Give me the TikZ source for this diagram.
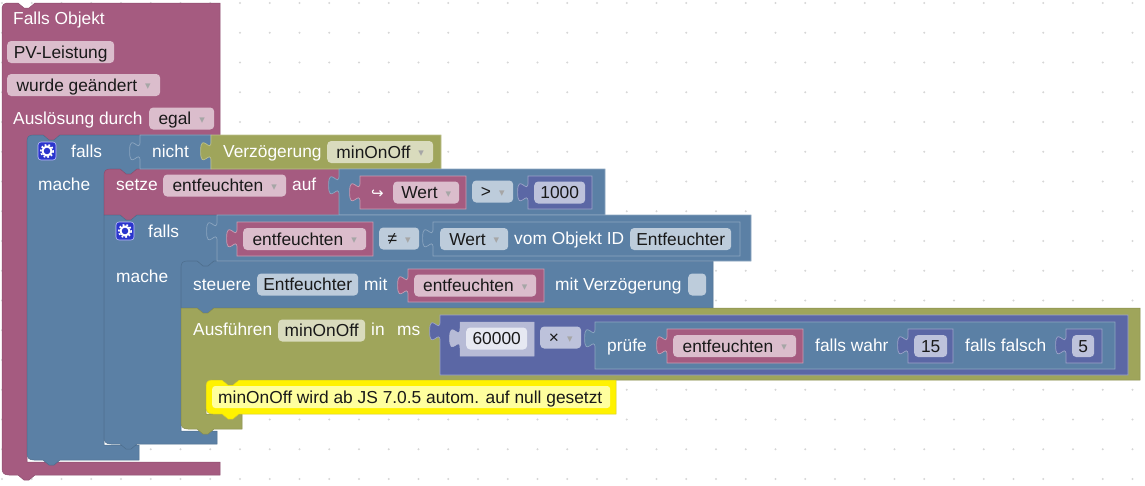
\documentclass[tikz,border=0pt]{standalone}
\usepackage{fontspec}
\setmainfont{Liberation Sans}
\newfontfamily\symfont{DejaVu Sans}
\usepackage{xcolor}
\usepackage{tikz}
\definecolor{blkpurple}{HTML}{A55B80}
\definecolor{blkblue}{HTML}{5B80A5}
\definecolor{blkolive}{HTML}{9FA55B}
\definecolor{blknum}{HTML}{5B67A5}
\definecolor{blkshadow}{HTML}{B7BBD6}
\definecolor{gearblue}{HTML}{2A35CC}
\definecolor{notelight}{HTML}{FFFF9E}
\newcommand{\blockfont}{\fontsize{17.35}{20}\selectfont}
\newcommand{\ddmark}{\hspace{8pt}\raisebox{1.5pt}{\symfont\fontsize{11}{11}\selectfont\textcolor{black!35}{▾}}\hspace{6pt}}
\newcommand{\topnotch}[2]{-- (#1+16,#2) -- (#1+22,#2+5) -- (#1+27,#2+5) -- (#1+33,#2)}
\newcommand{\bottab}[2]{-- (#1+33,#2) -- (#1+27,#2+5) -- (#1+22,#2+5) -- (#1+16,#2)}
\newcommand{\innertop}[2]{\bottab{#1}{#2} -- (#1+6,#2) -- (#1+6,#2+6) -- (#1,#2+6)}
\newcommand{\cornerTL}[2]{-- (#1,#2+6) .. controls (#1,#2+2) and (#1+2,#2) .. (#1+6,#2)}
\newcommand{\cornerBL}[2]{-- (#1+7,#2) .. controls (#1+2,#2) and (#1,#2-2) .. (#1,#2-7)}
\newcommand{\valblock}[5]{\path[#1] (#2,#3) -- (#2,#3+6.5)
  .. controls (#2,#3+19.5) and (#2-10.4,#3-3.9) .. (#2-10.4,#3+16.25)
  .. controls (#2-10.4,#3+36.4) and (#2,#3+13) .. (#2,#3+26)
  -- (#2,#5) -- (#4,#5) -- (#4,#3) -- cycle;}
\tikzset{
  stmtpurple/.style={fill=blkpurple,draw=blkpurple!85!black,line width=.5pt},
  stmtblue/.style={fill=blkblue,draw=blkblue!85!black,line width=.5pt},
  stmtolive/.style={fill=blkolive,draw=blkolive!85!black,line width=.5pt},
  valpurple/.style={fill=blkpurple,draw=blkpurple!60!white,line width=.7pt},
  valblue/.style={fill=blkblue,draw=blkblue!70!white,line width=.7pt},
  valolive/.style={fill=blkolive,draw=blkolive!70!white,line width=.7pt},
  valnum/.style={fill=blknum,draw=blknum!60!white,line width=.7pt},
  valshadow/.style={fill=blkshadow,draw=blkshadow,line width=.5pt},
  lblnode/.style={anchor=west,inner sep=0pt,text=white,font=\blockfont,text height=13pt,text depth=1pt},
  fldnode/.style={lblnode,text=black!90,rounded corners=4pt,minimum height=22pt},
  fldpurple/.style={fldnode,fill=blkpurple!40!white},
  fldblue/.style={fldnode,fill=blkblue!40!white},
  fldolive/.style={fldnode,fill=blkolive!40!white},
  fldnum/.style={fldnode,fill=blknum!40!white},
  fldshadow/.style={fldnode,fill=blknum!15!white},
  gearnode/.style={fill=gearblue,draw=blue!25!white,line width=.6pt,rounded corners=3pt,minimum size=18pt,inner sep=0pt},
}
\begin{document}
\begin{tikzpicture}[x=1pt,y=-1pt]
  \useasboundingbox (0,0) rectangle (1145,485);
  % workspace dots
  \foreach \i in {0,...,38}
    \foreach \j in {0,...,16}
      \fill[black!16] (2+29.75*\i,3+29.75*\j) circle (1.2);
  % statement blocks, outer ones first
  \path[stmtpurple] (8,3) \topnotch{2}{3} -- (220,3) -- (220,135) \innertop{27}{135} -- (27,462)
    -- (220,462) -- (220,475) \bottab{2}{475} \cornerBL{2}{475} \cornerTL{2}{3} -- cycle;
  \path[stmtblue] (33,135) \topnotch{27}{135} -- (211,135) -- (211,169) \innertop{104}{169} -- (104,445)
    -- (139,445) -- (139,460) \bottab{27}{460} \cornerBL{27}{460} \cornerTL{27}{135} -- cycle;
  \path[stmtpurple] (110,169) \topnotch{104}{169} -- (339,169) -- (339,215) \bottab{104}{215}
    -- (104,215) \cornerTL{104}{169} -- cycle;
  \path[stmtblue] (104,215) \topnotch{104}{215} -- (217,215) -- (217,261) \innertop{181}{261} -- (181,431)
    -- (217,431) -- (217,444) \bottab{104}{444} \cornerBL{104}{444} -- cycle;
  \path[stmtblue] (187,261) \topnotch{181}{261} -- (713,261) -- (713,308) \bottab{181}{308}
    -- (181,308) \cornerTL{181}{261} -- cycle;
  \path[stmtolive] (181,308) \topnotch{181}{308} -- (1140,308) -- (1140,380) \innertop{206}{380} -- (206,414)
    -- (242,414) -- (242,429) \bottab{181}{429} \cornerBL{181}{429} -- cycle;
  % comment block
  \path[fill=yellow,draw=yellow!80!black,line width=.5pt] (212,380) \topnotch{206}{380} -- (616,380) -- (616,414)
    \bottab{206}{414} \cornerBL{206}{414} \cornerTL{206}{380} -- cycle;
  \node[anchor=west,fill=notelight,rounded corners=3pt,minimum width=398pt,minimum height=22pt,inner sep=0pt] (nnotebg) at (212,397) {};
  % value blocks
  \valblock{valblue}{140}{135}{211}{169}
  \valblock{valolive}{211}{135}{441}{169}
  \valblock{valblue}{339}{169}{605}{215}
  \valblock{valpurple}{360}{176}{466}{209}
  \valblock{valnum}{528}{176}{592}{209}
  \valblock{valblue}{217}{215}{751}{261}
  \valblock{valpurple}{237}{222}{373}{256}
  \valblock{valblue}{433}{222}{740}{256}
  \valblock{valpurple}{408}{269}{544}{302}
  \valblock{valnum}{440}{315}{1128}{375}
  \valblock{valshadow}{460}{322}{534}{356}
  \valblock{valblue}{595}{322}{1115}{369}
  \valblock{valpurple}{667}{329}{803}{363}
  \valblock{valnum}{908}{329}{953}{363}
  \valblock{valnum}{1066}{329}{1102}{363}
  % trigger
  \node[lblnode] (ntrigger) at (13,18) {Falls Objekt};
  \node[fldpurple,minimum width=107pt] (npv) at (7,52) {PV-Leistung};
  \node[fldpurple,minimum width=153pt] (nchange) at (7,85) {wurde geändert\ddmark};
  \node[lblnode] (nausl) at (13,118) {Auslösung durch};
  \node[fldpurple,minimum width=65pt] (negal) at (149,118.5) {egal\ddmark};
  % first falls
  \node[gearnode] (ngearA) at (47,151) {};
  \draw[white,line width=2pt] (ngearA) circle (4.5);
  \draw[white,line width=1.6pt,dash pattern=on 1.8pt off 2pt] (ngearA) circle (6.2);
  \node[lblnode] (nfallsA) at (71,151) {falls};
  \node[lblnode] (nnicht) at (152,151) {nicht};
  \node[lblnode] (nverz) at (223,151) {Verzögerung};
  \node[fldolive,minimum width=106pt] (nminA) at (327,152) {minOnOff\ddmark};
  \node[lblnode] (nmacheA) at (38,184) {mache};
  % setze
  \node[lblnode] (nsetze) at (116,184) {setze};
  \node[fldpurple,minimum width=123pt] (nentA) at (163,185.5) {entfeuchten\ddmark};
  \node[lblnode] (nauf) at (292,184) {auf};
  \node[lblnode,font=\symfont\fontsize{15}{18}\selectfont] (nhook) at (371,192) {↪};
  \node[fldpurple,minimum width=66pt] (nwertA) at (393,192.5) {Wert\ddmark};
  \node[fldblue,minimum width=41pt] (ngt) at (472,191.5) {>\ddmark};
  \node[fldnum,minimum width=51pt] (nthousand) at (534,192.5) {1000};
  % second falls
  \node[gearnode] (ngearB) at (125,231) {};
  \draw[white,line width=2pt] (ngearB) circle (4.5);
  \draw[white,line width=1.6pt,dash pattern=on 1.8pt off 2pt] (ngearB) circle (6.2);
  \node[lblnode] (nfallsB) at (148,231) {falls};
  \node[fldpurple,minimum width=123pt] (nentB) at (243,239) {entfeuchten\ddmark};
  \node[fldblue,minimum width=40pt] (nneq) at (379,238.5) {≠\ddmark};
  \node[fldblue,minimum width=68pt] (nwertB) at (440,239) {Wert\ddmark};
  \node[lblnode] (nvom) at (514,238.5) {vom Objekt ID};
  \node[fldblue,minimum width=101pt] (nidA) at (630,239) {Entfeuchter};
  \node[lblnode] (nmacheB) at (116,276) {mache};
  % steuere
  \node[lblnode] (nsteuere) at (193,284) {steuere};
  \node[fldblue,minimum width=101pt] (nidB) at (257,284.5) {Entfeuchter};
  \node[lblnode] (nmit) at (364,284) {mit};
  \node[fldpurple,minimum width=122pt] (nentC) at (414,285.5) {entfeuchten\ddmark};
  \node[lblnode] (nverzmit) at (555,284) {mit Verzögerung};
  \node[fldblue,minimum width=18pt] (nempty) at (688,284.5) {};
  % ausfuehren
  \node[lblnode] (nausf) at (193,329) {Ausführen};
  \node[fldolive,minimum width=87pt] (nminB) at (278,330.5) {minOnOff};
  \node[lblnode] (nin) at (371,329) {in};
  \node[lblnode] (nms) at (397,329) {ms};
  \node[fldshadow,minimum width=61pt] (nsixty) at (466,338.5) {60000};
  \node[fldnum,minimum width=41pt] (ntimes) at (540,337.5) {×\ddmark};
  \node[lblnode] (npruefe) at (607,345) {prüfe};
  \node[fldpurple,minimum width=123pt] (nentD) at (673,346) {entfeuchten\ddmark};
  \node[lblnode] (nwahr) at (815,345) {falls wahr};
  \node[fldnum,minimum width=33pt] (nfifteen) at (914,346) {15};
  \node[lblnode] (nfalsch) at (965,345) {falls falsch};
  \node[fldnum,minimum width=22pt] (nfive) at (1072,346) {5};
  % comment text
  \node[lblnode,text=black!90] (nnote) at (218,397) {minOnOff wird ab JS 7.0.5 autom. auf null gesetzt};
\end{tikzpicture}
\end{document}
